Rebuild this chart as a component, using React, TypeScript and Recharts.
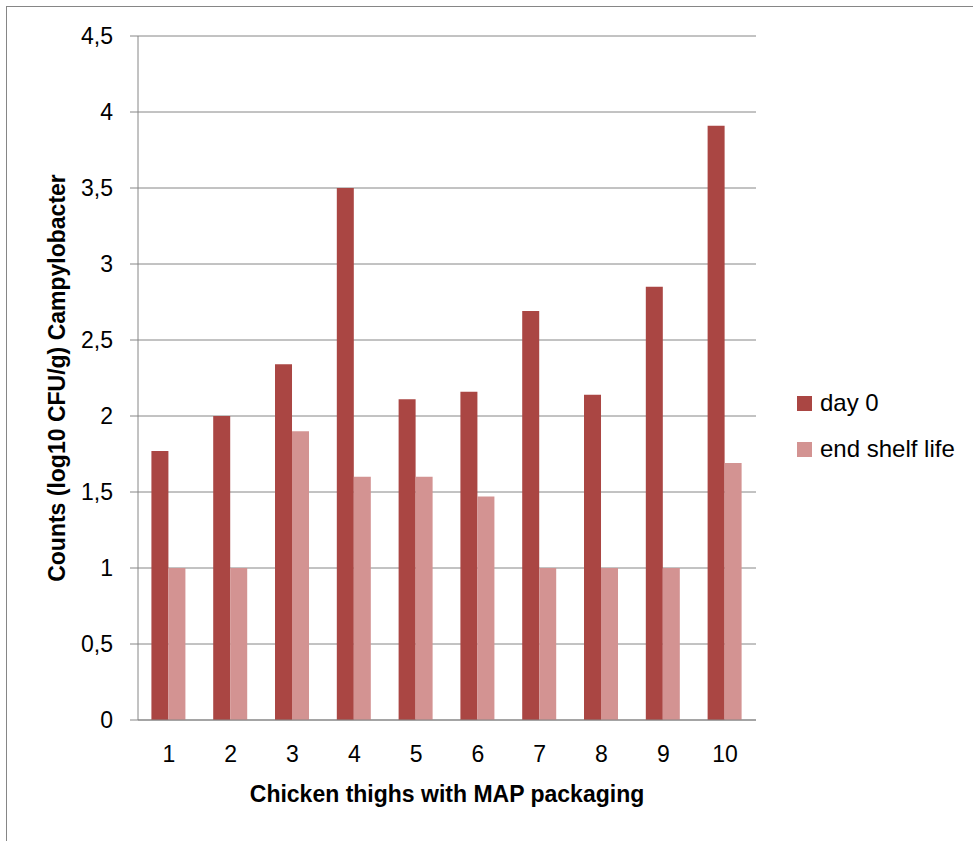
import React from 'react';
import { BarChart, Bar, XAxis, YAxis, CartesianGrid, Legend } from 'recharts';

const categories = ['1', '2', '3', '4', '5', '6', '7', '8', '9', '10'];
const day0 = [1.77, 2.0, 2.34, 3.5, 2.11, 2.16, 2.69, 2.14, 2.85, 3.91];
const endShelfLife = [1.0, 1.0, 1.9, 1.6, 1.6, 1.47, 1.0, 1.0, 1.0, 1.69];
const yTicks = [0, 0.5, 1, 1.5, 2, 2.5, 3, 3.5, 4, 4.5];
const edgeTicks = [0, 1, 2, 3, 4, 5, 6, 7, 8, 9, 10];
const seriesNames = ['day 0', 'end shelf life'];
const seriesColors = ['#AA4643', '#D39392'];
const xTitle = 'Chicken thighs with MAP packaging';
const yTitle = 'Counts (log10 CFU/g) Campylobacter';

const data = categories.map((name, i) => ({
  name,
  day0: day0[i],
  endShelfLife: endShelfLife[i],
}));

const FONT = '"Liberation Sans", Arial, sans-serif';
const GRAY = '#868686';

const renderLegend = (props: any) => {
  const { payload } = props;
  return (
    <div style={{ width: 176, fontFamily: FONT, fontSize: 24, color: '#000' }}>
      {(payload || []).map((entry: any, i: number) => (
        <div key={i} style={{ height: 46, display: 'flex', alignItems: 'center' }}>
          <span style={{ display: 'inline-block', width: 15, height: 15, background: entry.color, marginRight: 8 }} />
          <span style={{ lineHeight: '24px', whiteSpace: 'nowrap' }}>{entry.value}</span>
        </div>
      ))}
    </div>
  );
};

export default function App() {
  return (
    <div style={{ position: 'absolute', left: 0, top: 0, width: 973, height: 841, overflow: 'hidden', background: '#fff' }}>
      <div style={{ position: 'absolute', left: 6, top: 6, width: 2000, height: 2000, border: `1.5px solid ${GRAY}` }} />
      <div style={{ position: 'absolute', left: 0, top: 0 }}>
        <BarChart
          width={973}
          height={841}
          data={data}
          margin={{ top: 36, right: 41, bottom: 0, left: 40 }}
          barCategoryGap="21.7%"
          barGap={0}
        >
          <CartesianGrid xAxisId="cat" yAxisId="y" vertical={false} stroke={GRAY} strokeWidth={1} />
          <XAxis
            xAxisId="edge"
            type="number"
            domain={[0, 10]}
            ticks={edgeTicks}
            allowDataOverflow
            tick={false}
            tickSize={8}
            tickLine={{ stroke: GRAY }}
            axisLine={false}
            height={0}
          />
          <XAxis
            xAxisId="cat"
            dataKey="name"
            height={121}
            tickLine={false}
            tickSize={0}
            tickMargin={26}
            axisLine={{ stroke: GRAY }}
            tick={{ fill: '#000', fontSize: 23, fontFamily: FONT }}
            interval={0}
            label={{
              value: xTitle,
              position: 'insideBottom',
              offset: 39,
              style: { fill: '#000', fontSize: 23, fontWeight: 'bold', fontFamily: FONT },
            }}
          />
          <YAxis
            yAxisId="y"
            width={98}
            domain={[0, 4.5]}
            ticks={yTicks}
            interval={0}
            tickSize={8}
            tickMargin={17}
            tickLine={{ stroke: GRAY }}
            axisLine={{ stroke: GRAY }}
            tickFormatter={(v: number) => String(v).replace('.', ',')}
            tick={{ fill: '#000', fontSize: 23, fontFamily: FONT }}
            label={{
              value: yTitle,
              angle: -90,
              position: 'insideLeft',
              offset: 17,
              style: { fill: '#000', fontSize: 23, fontWeight: 'bold', fontFamily: FONT, textAnchor: 'middle' },
            }}
          />
          <Legend
            layout="vertical"
            align="right"
            verticalAlign="middle"
            content={renderLegend}
            wrapperStyle={{ left: 797, top: 380, right: 'auto' }}
          />
          <Bar xAxisId="cat" yAxisId="y" dataKey="day0" name={seriesNames[0]} fill={seriesColors[0]} isAnimationActive={false} />
          <Bar xAxisId="cat" yAxisId="y" dataKey="endShelfLife" name={seriesNames[1]} fill={seriesColors[1]} isAnimationActive={false} />
        </BarChart>
      </div>
    </div>
  );
}
